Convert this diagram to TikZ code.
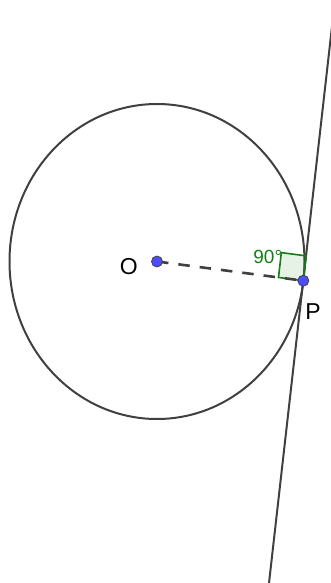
\documentclass[tikz,border=0pt]{standalone}
\usepackage{fontspec}
\setmainfont{Liberation Sans}
\usetikzlibrary{calc}

\definecolor{pointblue}{RGB}{77,77,255}
\definecolor{anglegreen}{RGB}{20,125,20}
\definecolor{linegray}{RGB}{64,64,64}

\begin{document}
\begin{tikzpicture}[x=1pt, y=-1pt,
  curve/.style={draw=linegray, line width=2pt},
  radius line/.style={draw=linegray, line width=2.6pt, dash pattern=on 11.5pt off 10pt},
  pt/.style={circle, draw=linegray, fill=pointblue, line width=0.8pt, inner sep=0pt, minimum size=11pt},
  ptlabel/.style={font=\fontsize{23}{25}\selectfont, inner sep=0pt}]
  \useasboundingbox (0,0) rectangle (331,583);
  % Circle and tangent line
  \coordinate (O) at (157,261.5);
  \coordinate (P) at (303.3,280.7);
  \coordinate (T1) at (335,0);
  \coordinate (T2) at (269,583);
  \draw[curve] (O) ellipse[x radius=147.5, y radius=157.5];
  \draw[curve] (T1) -- (T2);
  % Right angle mark
  \coordinate (A) at ($(P)!25pt!(O)$);
  \coordinate (B) at ($(P)!25pt!(T1)$);
  \coordinate (C) at ($(A)+(B)-(P)$);
  \draw[anglegreen, line width=1.6pt, fill=anglegreen, fill opacity=0.1]
    (P) -- (A) -- (C) -- (B) -- cycle;
  \node[anchor=east, text=anglegreen, font=\fontsize{19}{21}\selectfont, inner sep=0pt]
    (ang) at ($(C)+(1,4)$) {90°};
  % Radius
  \draw[radius line] (O) -- (P);
  \node[pt] (dotO) at (O) {};
  \node[pt] (dotP) at (P) {};
  \node[ptlabel] (labO) at (128.7,266.7) {O};
  \node[ptlabel] (labP) at (313,311.5) {P};
\end{tikzpicture}
\end{document}
